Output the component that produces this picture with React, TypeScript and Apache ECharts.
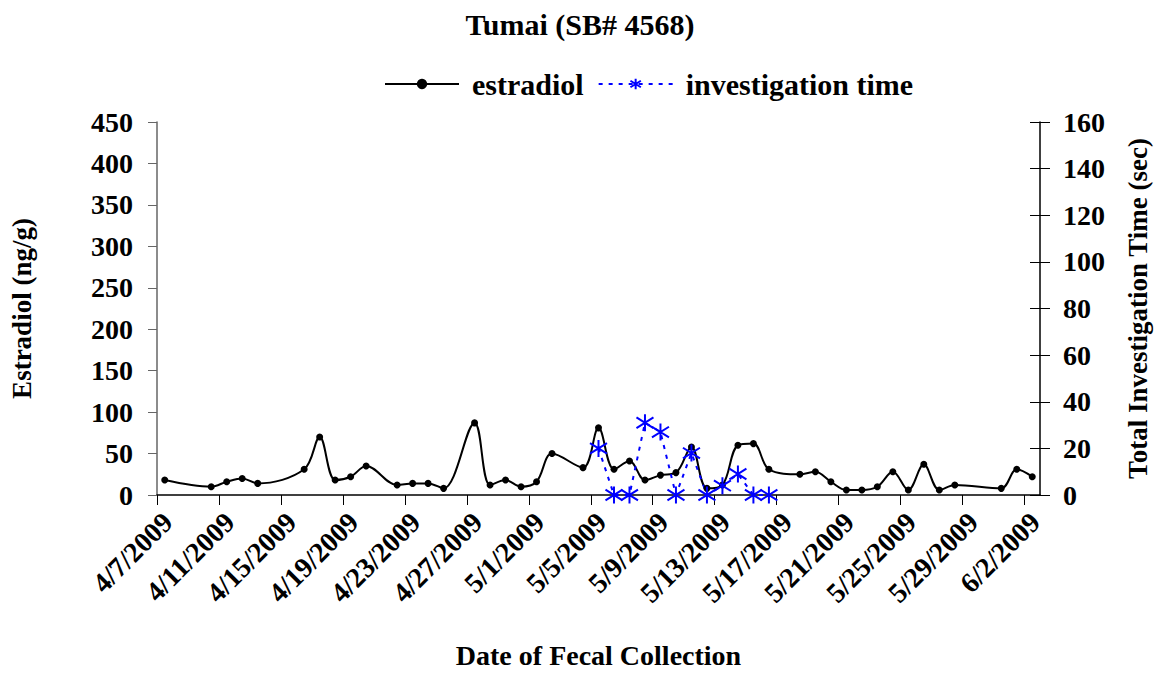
import React, { useEffect, useRef } from "react";
import * as echarts from "echarts";

const FONT = '"Liberation Serif", "Times New Roman", serif';

const estradiolDates = [
  "4/7/2009", "4/10/2009", "4/11/2009", "4/12/2009", "4/13/2009", "4/16/2009", "4/17/2009",
  "4/18/2009", "4/19/2009", "4/20/2009", "4/22/2009", "4/23/2009", "4/24/2009", "4/25/2009",
  "4/27/2009", "4/28/2009", "4/29/2009", "4/30/2009", "5/1/2009", "5/2/2009", "5/4/2009",
  "5/5/2009", "5/6/2009", "5/7/2009", "5/8/2009", "5/9/2009", "5/10/2009", "5/11/2009",
  "5/12/2009", "5/13/2009", "5/14/2009", "5/15/2009", "5/16/2009", "5/18/2009", "5/19/2009",
  "5/20/2009", "5/21/2009", "5/22/2009", "5/23/2009", "5/24/2009", "5/25/2009", "5/26/2009",
  "5/27/2009", "5/28/2009", "5/31/2009", "6/1/2009", "6/2/2009",
];
const estradiolValues = [
  18, 10, 16, 20, 14, 31, 70,
  18, 22, 35, 12, 14, 14, 8,
  87, 12, 18, 10, 16, 50, 33,
  81, 31, 41, 18, 24, 27, 58,
  8, 12, 60, 62, 31, 25, 28,
  16, 6, 6, 10, 28, 6, 37,
  6, 12, 8, 31, 22,
];

const investigationDates = [
  "5/5/2009", "5/6/2009", "5/7/2009", "5/8/2009", "5/9/2009", "5/10/2009",
  "5/11/2009", "5/12/2009", "5/13/2009", "5/14/2009", "5/15/2009", "5/16/2009",
];
const investigationValues = [20, 0, 0, 31, 27, 0, 18, 0, 4, 9, 0, 0];

const xTickLabels = [
  "4/7/2009", "4/11/2009", "4/15/2009", "4/19/2009", "4/23/2009", "4/27/2009", "5/1/2009",
  "5/5/2009", "5/9/2009", "5/13/2009", "5/17/2009", "5/21/2009", "5/25/2009", "5/29/2009",
  "6/2/2009",
];

const START = Date.UTC(2009, 3, 7);
function dayOffset(s: string): number {
  const [m, d, y] = s.split("/").map(Number);
  return (Date.UTC(y, m - 1, d) - START) / 86400000;
}

const STAR = "path://M8,0 L8,16 M2,3 L14,13 M2,13 L14,3";

export default function App() {
  const ref = useRef<HTMLDivElement>(null);
  useEffect(() => {
    if (!ref.current) return;
    const chart = echarts.init(ref.current, null, { renderer: "svg" });
    const bold = { fontFamily: FONT, fontWeight: "bold" as const, color: "#000" };
    chart.setOption({
      animation: false,
      title: {
        text: "Tumai (SB# 4568)",
        left: "center",
        top: 4,
        textStyle: { ...bold, fontSize: 30 },
      },
      legend: {
        data: ["estradiol", "investigation time"],
        left: 379,
        top: 64,
        itemWidth: 74,
        itemHeight: 13,
        itemGap: 14,
        formatter: "{a|{name}}",
        textStyle: {
          ...bold,
          fontSize: 30,
          rich: { a: { ...bold, fontSize: 30, padding: [0, 0, 0, 8] } },
        },
      },
      grid: { left: 157, right: 120, top: 122, bottom: 178, containLabel: false, outerBoundsMode: "none" },
      xAxis: {
        type: "value",
        min: 0,
        max: 57,
        interval: 4,
        name: "Date of Fecal Collection",
        nameLocation: "middle",
        nameGap: 146,
        nameTextStyle: { ...bold, fontSize: 28 },
        axisLine: { show: true, lineStyle: { color: "#000", width: 1.5 } },
        axisTick: { show: true, length: 10, lineStyle: { color: "#000" } },
        splitLine: { show: false },
        axisLabel: {
          ...bold,
          fontSize: 28,
          rotate: 45,
          margin: 33,
          padding: [0, -15, 0, 0],
          showMaxLabel: false,
          formatter: (v: number) => {
            const i = v / 4;
            return Number.isInteger(i) && i < xTickLabels.length ? xTickLabels[i] : "";
          },
        },
      },
      yAxis: [
        {
          type: "value",
          position: "left",
          min: 0,
          max: 450,
          interval: 50,
          name: "Estradiol (ng/g)",
          nameLocation: "middle",
          nameRotate: 90,
          nameGap: 122,
          nameTextStyle: { ...bold, fontSize: 27 },
          axisLine: { show: true, lineStyle: { color: "#666", width: 1.5 } },
          axisTick: { show: true, length: 9, lineStyle: { color: "#666" } },
          splitLine: { show: false },
          axisLabel: { ...bold, fontSize: 28, margin: 24 },
        },
        {
          type: "value",
          position: "right",
          min: 0,
          max: 160,
          interval: 20,
          name: "Total Investigation Time (sec)",
          nameLocation: "middle",
          nameRotate: 90,
          nameGap: 84,
          nameTextStyle: { ...bold, fontSize: 27 },
          axisLine: { show: true, lineStyle: { color: "#000", width: 1.5 } },
          axisTick: { show: true, length: 10, lineStyle: { color: "#000" } },
          splitLine: { show: false },
          axisLabel: { ...bold, fontSize: 28, margin: 23 },
        },
        {
          type: "value",
          position: "right",
          min: 0,
          max: 160,
          interval: 20,
          axisLine: { show: false },
          axisTick: { show: true, inside: true, length: 10, lineStyle: { color: "#000" } },
          splitLine: { show: false },
          axisLabel: { show: false },
        },
      ],
      series: [
        {
          name: "estradiol",
          type: "line",
          yAxisIndex: 0,
          smooth: 0.35,
          symbol: "circle",
          symbolSize: 7,
          itemStyle: { color: "#000" },
          lineStyle: { color: "#000", width: 2 },
          data: estradiolDates.map((d, i) => [dayOffset(d) + 0.5, estradiolValues[i]]),
        },
        {
          name: "investigation time",
          type: "line",
          yAxisIndex: 1,
          symbol: STAR,
          symbolSize: 17,
          itemStyle: { color: "none", borderColor: "#0000FF", borderWidth: 2 },
          lineStyle: { color: "#0000FF", width: 2, type: [4, 6] },
          data: investigationDates.map((d, i) => [dayOffset(d) + 0.5, investigationValues[i]]),
        },
      ],
    });
    return () => chart.dispose();
  }, []);
  return (
    <div
      ref={ref}
      style={{ position: "absolute", left: 0, top: 0, width: 1160, height: 673, background: "#fff" }}
    />
  );
}
